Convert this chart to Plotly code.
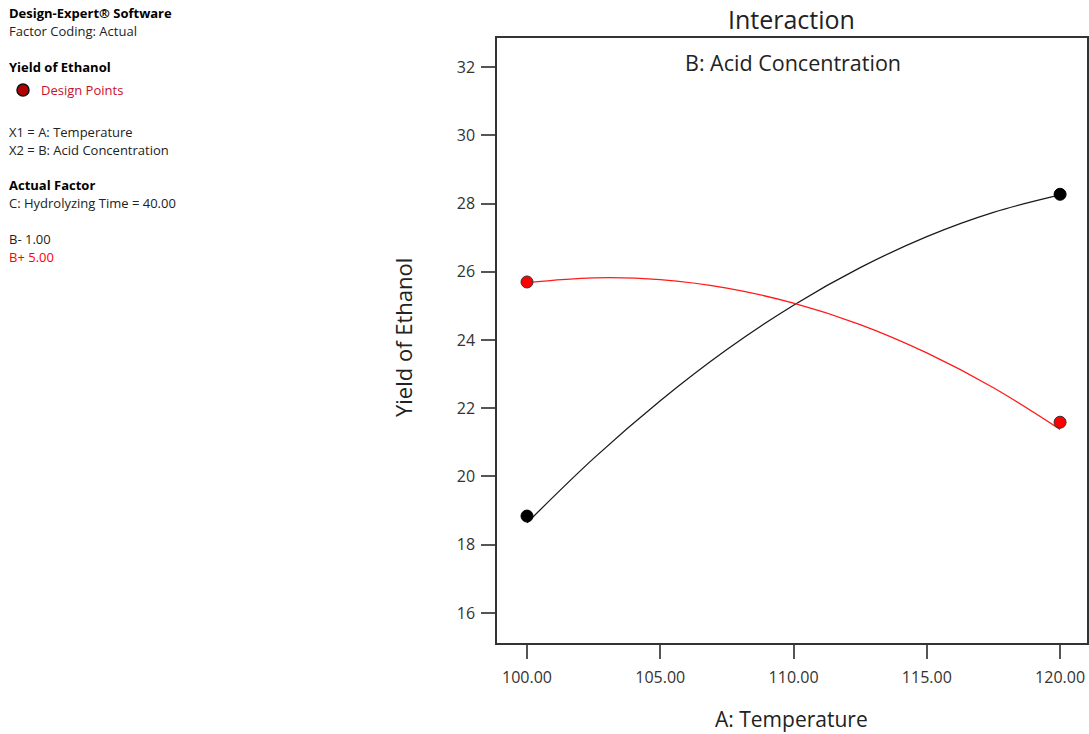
import plotly.graph_objects as go

# Factor levels (A: Temperature) and design-point responses
temp_points = [100.0, 120.0]
b_minus_points = [18.84, 28.27]   # B- 1.00 (black)
b_plus_points = [25.70, 21.59]    # B+ 5.00 (red)

# Model prediction curves
temp_curve = [100.0, 102.5, 105.0, 107.5, 110.0, 112.5, 115.0, 117.5, 120.0]
b_minus_curve = [18.64, 20.53, 22.22, 23.72, 25.02, 26.12, 27.03, 27.74, 28.25]
b_plus_curve = [25.68, 25.82, 25.77, 25.52, 25.08, 24.45, 23.62, 22.60, 21.38]

x_ticks = [100, 105, 110, 115, 120]
x_tick_labels = ["100.00", "105.00", "110.00", "115.00", "120.00"]
y_ticks = [16, 18, 20, 22, 24, 26, 28, 30, 32]

W, H = 1089, 734
PW = 1087  # paper width (margin r=2)
FONT = "Open Sans"

def px(x):
    return x / PW

def py(y):
    return 1 - y / H

fig = go.Figure()
fig.add_trace(go.Scatter(x=temp_curve, y=b_minus_curve, mode="lines",
                         line=dict(color="#1a1a1a", width=1.3, shape="spline"),
                         showlegend=False, hoverinfo="skip"))
fig.add_trace(go.Scatter(x=temp_curve, y=b_plus_curve, mode="lines",
                         line=dict(color="#ff1a1a", width=1.3, shape="spline"),
                         showlegend=False, hoverinfo="skip"))
fig.add_trace(go.Scatter(x=temp_points, y=b_minus_points, mode="markers",
                         marker=dict(color="#000000", size=12,
                                     line=dict(color="#000000", width=1)),
                         showlegend=False))
fig.add_trace(go.Scatter(x=temp_points, y=b_plus_points, mode="markers",
                         marker=dict(color="#ff0000", size=12,
                                     line=dict(color="#333333", width=1)),
                         showlegend=False))

axis_common = dict(showline=True, mirror=True, linecolor="#333333", linewidth=1.5,
                   showgrid=False, zeroline=False, ticks="outside", ticklen=14,
                   tickcolor="#555555", tickwidth=1.5,
                   tickfont=dict(family=FONT, size=16, color="#333333"))

fig.update_layout(
    width=W, height=H,
    margin=dict(l=0, r=2, t=0, b=0),
    paper_bgcolor="white", plot_bgcolor="white",
    font=dict(family=FONT, color="#222222"),
    xaxis=dict(domain=[497 / PW, 1.0], range=[98.874, 121.01],
               tickvals=x_ticks, ticktext=x_tick_labels, ticklabelstandoff=5,
               **axis_common),
    yaxis=dict(domain=[py(643), py(38)], range=[15.12, 32.85],
               tickvals=y_ticks, ticklabelstandoff=3, **axis_common),
)

annots = [
    dict(text="Interaction", x=px(792), y=py(19), size=25),
    dict(text="B: Acid Concentration", x=px(793), y=py(62), size=21.5),
    dict(text="A: Temperature", x=px(791), y=py(719), size=21),
]
for a in annots:
    fig.add_annotation(text=a["text"], xref="paper", yref="paper", x=a["x"], y=a["y"],
                       xanchor="center", yanchor="middle", showarrow=False,
                       font=dict(family=FONT, size=a["size"], color="#222222"))
fig.add_annotation(text="Yield of Ethanol", xref="paper", yref="paper", x=px(403), y=py(338),
                   xanchor="center", yanchor="middle", textangle=-90, showarrow=False,
                   font=dict(family=FONT, size=22, color="#222222"))

# left info panel
info = [
    ("<b>Design-Expert® Software</b>", 7, 13, "#000000"),
    ("Factor Coding: Actual", 7, 31, "#222222"),
    ("<b>Yield of Ethanol</b>", 7, 67, "#000000"),
    ("Design Points", 39, 90, "#c8102e"),
    ("X1 = A: Temperature", 7, 132, "#222222"),
    ("X2 = B: Acid Concentration", 7, 150, "#222222"),
    ("<b>Actual Factor</b>", 7, 185, "#000000"),
    ("C: Hydrolyzing Time = 40.00", 7, 203, "#222222"),
    ("B- 1.00", 7, 239, "#222222"),
    ("B+ 5.00", 7, 257, "#ff0000"),
]
for text, x, y, c in info:
    fig.add_annotation(text=text, xref="paper", yref="paper", x=px(x), y=py(y),
                       xanchor="left", yanchor="middle", showarrow=False,
                       font=dict(family=FONT, size=13, color=c))

fig.add_shape(type="circle", xref="paper", yref="paper",
              x0=px(17), x1=px(29), y0=py(96), y1=py(84),
              fillcolor="#b00000", line=dict(color="#111111", width=1.5))

fig.write_html("out.html")
